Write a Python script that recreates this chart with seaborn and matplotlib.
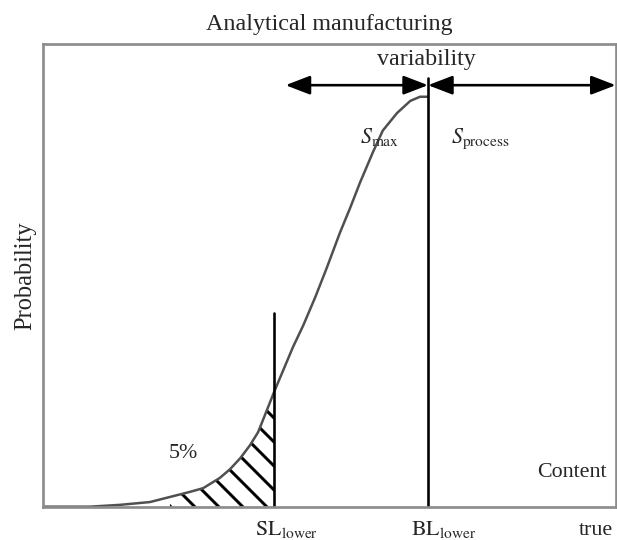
import numpy as np
import pandas as pd
import seaborn as sns
import matplotlib.pyplot as plt

# Curve (content in % of axis width, probability in % of axis height)
content = [0, 8.1, 13.4, 18.6, 22.1, 25.6, 27.9, 30.8, 32.6, 34.4, 36.1, 37.5, 38.7, 40.3,
           43.6, 45.4, 47.5, 49.5, 51.8, 53.6, 55.3, 57.6, 59.3, 61.8, 64.1, 65.8, 67.2]
probability = [0, 0, 0.4, 1.0, 2.1, 3.2, 4.0, 6.2, 8.1, 10.5, 13.3, 16.1, 19.8, 24.8,
               34.5, 39.2, 45.3, 51.6, 59.2, 64.6, 70.0, 76.7, 81.3, 85.1, 87.7, 88.6, 88.6]

sl_lower = 40.3
bl_lower = 67.2
sl_top = 41.9
bl_top = 92.7
hatch_start = 22.1

df = pd.DataFrame({"content": content, "probability": probability})

sns.set_theme(style="white")
plt.rcParams["font.family"] = ["Liberation Serif", "DejaVu Serif"]
plt.rcParams["mathtext.fontset"] = "stix"
plt.rcParams["hatch.linewidth"] = 3.0

fig = plt.figure(figsize=(617 / 72, 540 / 72), dpi=72)
ax = fig.add_axes([0.0705, 0.0617, 0.9274, 0.8568])

# hatched 5% tail
tail = df[(df.content >= hatch_start) & (df.content <= sl_lower)]
ax.fill_between(tail.content, 0, tail.probability, facecolor="none",
                edgecolor="black", hatch="\\", linewidth=0)

sns.lineplot(data=df, x="content", y="probability", sort=False, estimator=None,
             color="#505050", linewidth=2.5, ax=ax)

# limit lines
ax.plot([sl_lower, sl_lower], [0, sl_top], color="black", lw=2.6)
ax.plot([bl_lower, bl_lower], [0, bl_top], color="black", lw=2.6)

# variability arrows
arrow = dict(arrowstyle="<|-|>,head_length=1.3,head_width=0.5", color="black",
             lw=2.6, mutation_scale=16, shrinkA=0, shrinkB=0)
ax.annotate("", xy=(42.3, 91.1), xytext=(bl_lower, 91.1), arrowprops=arrow)
ax.annotate("", xy=(100, 91.1), xytext=(bl_lower, 91.1), arrowprops=arrow)

ax.text(66.9, 95.5, "variability", ha="center", va="baseline", fontsize=24)
ax.text(55.3, 78.6, r"$S_{\mathrm{max}}$", ha="left", va="baseline", fontsize=22)
ax.text(71.2, 78.6, r"$S_{\mathrm{process}}$", ha="left", va="baseline", fontsize=22)
ax.text(21.9, 10.5, "5%", ha="left", va="baseline", fontsize=22)
ax.text(86.2, 6.4, "Content", ha="left", va="baseline", fontsize=22)

# x labels under the axis
ax.text(36.9, -6.2, r"$\mathrm{SL}_{\mathrm{lower}}$", ha="left", va="baseline", fontsize=22)
ax.text(64.3, -6.2, r"$\mathrm{BL}_{\mathrm{lower}}$", ha="left", va="baseline", fontsize=22)
ax.text(93.6, -6.2, "true", ha="left", va="baseline", fontsize=22)

ax.set_xlim(0, 100)
ax.set_ylim(0, 100)
ax.set_xticks([])
ax.set_yticks([])
ax.set_xlabel("")
ax.set_ylabel("Probability", fontsize=24.5, labelpad=7)
ax.set_title("Analytical manufacturing", fontsize=24, pad=14)

for s in ax.spines.values():
    s.set_visible(True)
    s.set_color("#8c8c8c")
    s.set_linewidth(2.7)

fig.savefig("out.png", dpi=72, facecolor="white")
